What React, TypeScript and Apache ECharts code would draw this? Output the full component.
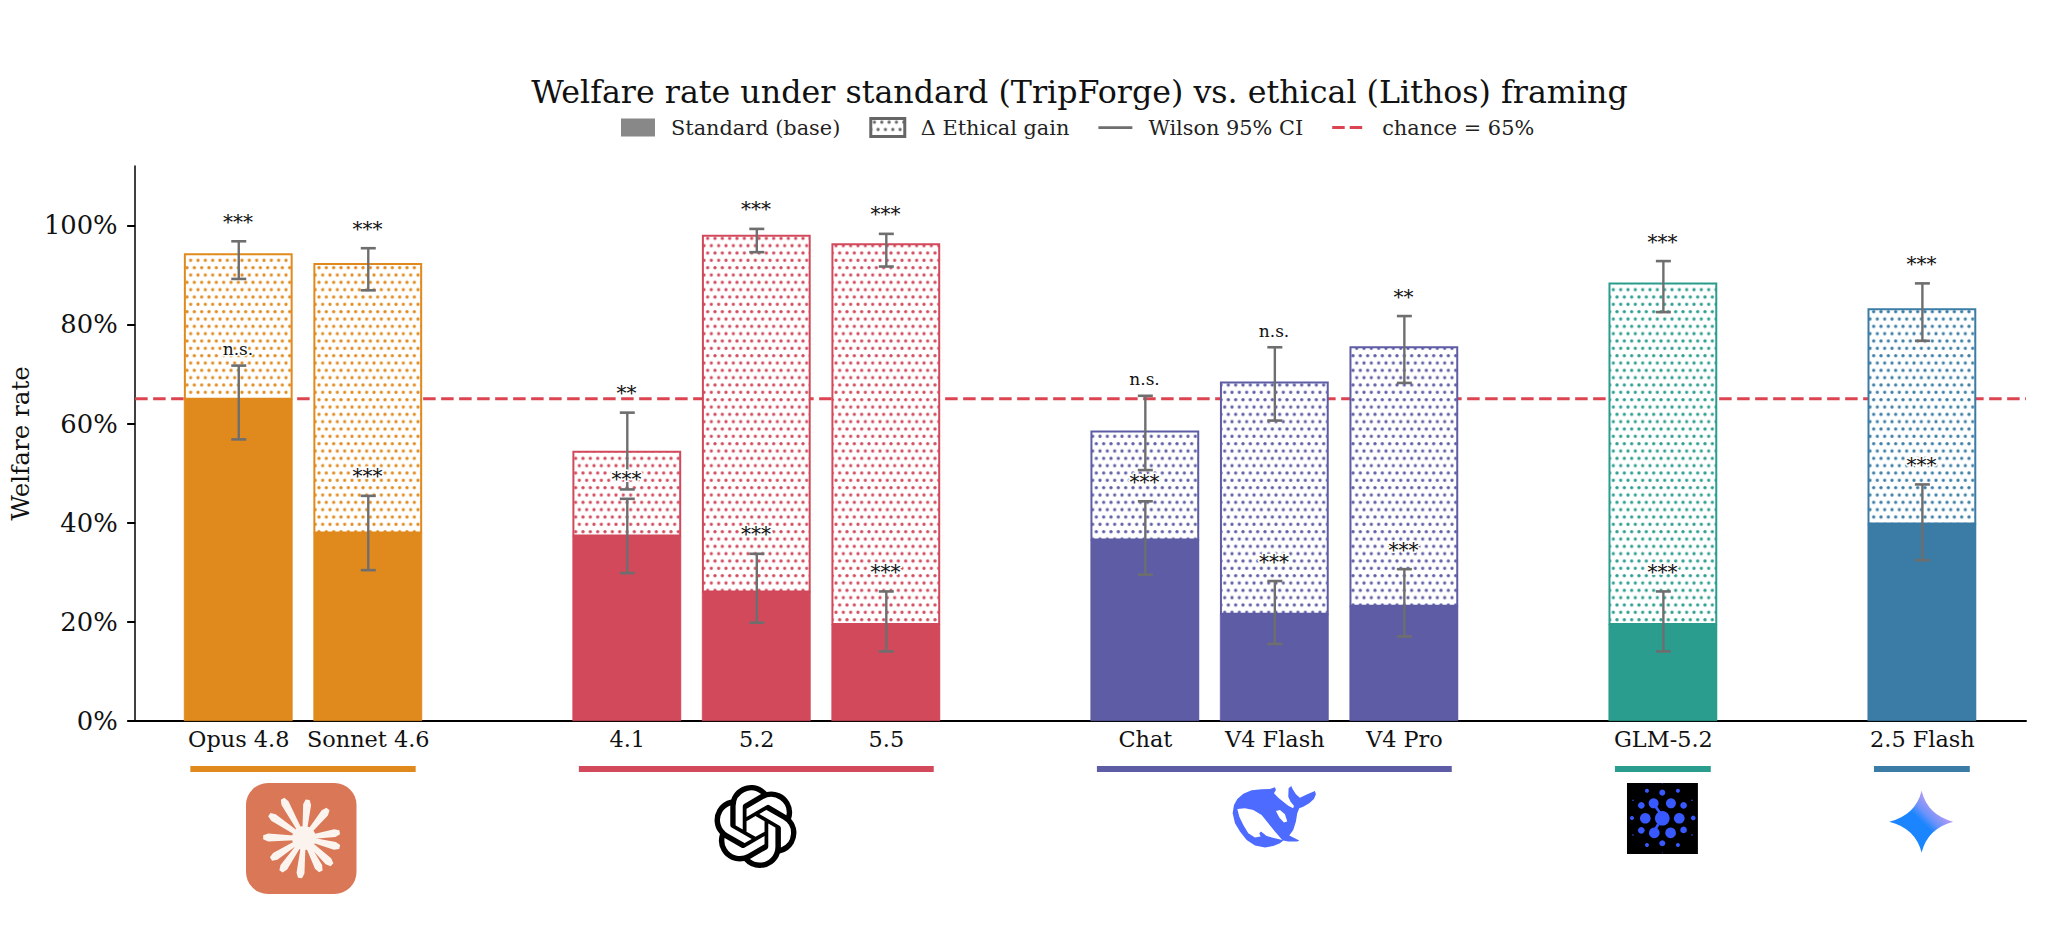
import React, { useEffect, useRef } from "react";
import * as echarts from "echarts";

// ---------- data ----------
const positions = [0, 1, 3, 4, 5, 7, 8, 9, 11, 13];
const modelNames = ["Opus 4.8", "Sonnet 4.6", "4.1", "5.2", "5.5", "Chat", "V4 Flash", "V4 Pro", "GLM-5.2", "2.5 Flash"];
const baseValues = [65.0, 38.0, 37.4, 26.1, 19.5, 36.6, 21.6, 23.2, 19.5, 39.8];
const ethicalValues = [94.4, 92.4, 54.5, 98.1, 96.4, 58.6, 68.5, 75.6, 88.5, 83.3];
const baseCiLow = [56.8, 30.4, 29.8, 19.8, 14.0, 29.5, 15.5, 17.0, 14.0, 32.4];
const baseCiHigh = [71.7, 45.4, 44.8, 33.7, 26.1, 44.3, 28.2, 30.6, 26.1, 47.7];
const ethicalCiLow = [89.2, 86.9, 46.7, 94.6, 91.7, 50.6, 60.6, 68.2, 82.5, 76.7];
const ethicalCiHigh = [96.8, 95.4, 62.2, 99.3, 98.3, 65.6, 75.4, 81.7, 92.8, 88.3];
const baseSig = ["n.s.", "***", "***", "***", "***", "***", "***", "***", "***", "***"];
const ethicalSig = ["***", "***", "**", "***", "***", "n.s.", "n.s.", "**", "***", "***"];
const barColors = ["#E08A1E", "#E08A1E", "#D1495B", "#D1495B", "#D1495B", "#5D5CA5", "#5D5CA5", "#5D5CA5", "#2A9D8F", "#3A7CA5"];
const groupSpans = [[0, 1], [3, 5], [7, 9], [11, 11], [13, 13]];
const groupColors = ["#E08A1E", "#D1495B", "#5D5CA5", "#2A9D8F", "#3A7CA5"];
const yTicks = [0, 20, 40, 60, 80, 100];
const xLimits = [-0.8, 13.8];
const chanceLevel = 65;

const FONT = '"DejaVu Serif", serif';

// ---------- logos ----------
const openAiPath =
  "M22.2819 9.8211a5.9847 5.9847 0 0 0-.5157-4.9108 6.0462 6.0462 0 0 0-6.5098-2.9A6.0651 6.0651 0 0 0 4.9807 4.1818a5.9847 5.9847 0 0 0-3.9977 2.9 6.0462 6.0462 0 0 0 .7427 7.0966 5.98 5.98 0 0 0 .511 4.9107 6.051 6.051 0 0 0 6.5146 2.9001A5.9847 5.9847 0 0 0 13.2599 24a6.0557 6.0557 0 0 0 5.7718-4.2058 5.9894 5.9894 0 0 0 3.9977-2.9001 6.0557 6.0557 0 0 0-.7475-7.0729zm-9.022 12.6081a4.4755 4.4755 0 0 1-2.8764-1.0408l.1419-.0804 4.7783-2.7582a.7948.7948 0 0 0 .3927-.6813v-6.7369l2.02 1.1686a.071.071 0 0 1 .038.052v5.5826a4.504 4.504 0 0 1-4.4945 4.4944zm-9.6607-4.1254a4.4708 4.4708 0 0 1-.5346-3.0137l.142.0852 4.783 2.7582a.7712.7712 0 0 0 .7806 0l5.8428-3.3685v2.3324a.0804.0804 0 0 1-.0332.0615L9.74 19.9502a4.4992 4.4992 0 0 1-6.1408-1.6464zM2.3408 7.8956a4.485 4.485 0 0 1 2.3655-1.9728V11.6a.7664.7664 0 0 0 .3879.6765l5.8144 3.3543-2.0201 1.1685a.0757.0757 0 0 1-.071 0l-4.8303-2.7865A4.504 4.504 0 0 1 2.3408 7.872zm16.5963 3.8558L13.1038 8.364 15.1192 7.2a.0757.0757 0 0 1 .071 0l4.8303 2.7913a4.4944 4.4944 0 0 1-.6765 8.1042v-5.6772a.79.79 0 0 0-.407-.667zm2.0107-3.0231l-.142-.0852-4.7735-2.7818a.7759.7759 0 0 0-.7854 0L9.409 9.2297V6.8974a.0662.0662 0 0 1 .0284-.0615l4.8303-2.7866a4.4992 4.4992 0 0 1 6.6802 4.66zM8.3065 12.863l-2.02-1.1638a.0804.0804 0 0 1-.038-.0567V6.0742a4.4992 4.4992 0 0 1 7.3757-3.4537l-.142.0805L8.704 5.459a.7948.7948 0 0 0-.3927.6813zm1.0976-2.3654l2.602-1.4998 2.6069 1.4998v2.9994l-2.5974 1.4997-2.6067-1.4997Z";

const whalePath =
  "M38 115L42 90L52 72L70 56L95 46L125 43L150 42L165 37L168 45L162 55L175 68L190 80L205 92L220 100L222 92L212 80L205 65L206 40L214 33L218 42L228 58L240 68L262 58L285 48L288 58L282 72L268 85L250 95L238 100L232 115L228 140L220 165L208 182L238 197L232 200L205 200L190 197L180 205L160 213L135 218L105 212L80 195L60 170L45 145Z" +
  "M52 102L58 125L70 150L85 175L105 188L122 185L118 175L123 170L140 183L165 190L187 195L165 170L145 145L125 120L100 105L75 100Z" +
  "M168 108L178 128L192 143L202 140L195 118L180 105Z";

const geminiPath = "M155 32Q137 105 58 125Q137 145 155 218Q173 145 250 125Q173 105 155 32Z";

const rayTips = [
  [-21.4, -39.3], [3.6, -38.3], [24, -29], [35.7, -5.7], [35.7, 9], [28, 26.7],
  [16.8, 33.3], [-4, 40], [-23, 33.3], [-33, 21], [-40.8, -0.7], [-34.7, -23.3],
];
const raysPath = rayTips
  .map(([dx, dy]) => {
    const len = Math.hypot(dx, dy);
    const ux = dx / len, uy = dy / len, nx = -uy, ny = ux;
    const p = (along: number, side: number) =>
      `${(ux * along + nx * side).toFixed(2)} ${(uy * along + ny * side).toFixed(2)}`;
    return `M${p(4, -2)}L${p(len - 5, -4)}L${p(len, -2)}L${p(len, 2)}L${p(len - 5, 4)}L${p(4, 2)}Z`;
  })
  .join("");

const glmDots = [
  [142, 130, 22], [142, 53, 9], [96, 47, 6], [189, 47, 6], [142, 205, 9], [96, 210, 6], [189, 210, 6],
  [116, 85, 15], [168, 85, 15], [79, 91, 10], [206, 91, 10], [91, 130, 16], [193, 130, 16],
  [51, 129, 6], [235, 129, 7], [79, 166, 10], [206, 165, 10], [118, 174, 16], [167, 174, 16],
  [54, 76, 2], [231, 76, 2], [54, 180, 2], [231, 180, 2], [142, 25, 1.2], [142, 234, 1.2],
];
const glmLinks = [[122, 95, 138, 118], [130, 148, 120, 165]];

echarts.graphic.registerShape("logoOpenAi", echarts.graphic.extendPath(openAiPath, {}));
echarts.graphic.registerShape("logoWhale", echarts.graphic.extendPath(whalePath, {}));
echarts.graphic.registerShape("logoGemini", echarts.graphic.extendPath(geminiPath, {}));
echarts.graphic.registerShape("logoRays", echarts.graphic.extendPath(raysPath, {}));

function dotPattern(color: string) {
  const c = document.createElement("canvas");
  c.width = 22;
  c.height = 44;
  const ctx = c.getContext("2d")!;
  ctx.fillStyle = "#ffffff";
  ctx.fillRect(0, 0, 22, 44);
  ctx.fillStyle = color;
  const dots = [[11, 11], [0, 33], [22, 33]];
  for (const [x, y] of dots) {
    ctx.beginPath();
    ctx.arc(x, y, 4.8, 0, Math.PI * 2);
    ctx.fill();
  }
  return { image: c, repeat: "repeat", scaleX: 1 / 3, scaleY: 1 / 3 };
}

const blankCorners = "M0 0h.01v.01h-.01zM34 18h.01v.01h-.01z";
const ciIcon = "path://" + blankCorners + "M0 7.8h34v2.6h-34z";
const chanceIcon = "path://" + blankCorners + "M0 7.6h12.5v3h-12.5zM17.5 7.6h12.5v3h-12.5z";

export default function App() {
  const ref = useRef<HTMLDivElement>(null);

  useEffect(() => {
    const chart = echarts.init(ref.current!, null, { renderer: "svg" });
    const gainPatterns = barColors.map(dotPattern);
    const lineEl = (x1: number, y1: number, x2: number, y2: number, lw: number) => ({
      type: "line",
      shape: { x1, y1, x2, y2 },
      style: { stroke: "#6E6E6E", lineWidth: lw },
    });
    const ciSeries = (low: number[], high: number[]) => ({
      type: "custom",
      name: "Wilson 95% CI",
      z: 5,
      silent: true,
      data: positions.map((x, i) => [x, low[i], high[i]]),
      renderItem: (_p: any, api: any) => {
        const a = api.coord([api.value(0), api.value(1)]);
        const b = api.coord([api.value(0), api.value(2)]);
        return {
          type: "group",
          children: [
            lineEl(a[0], a[1], b[0], b[1], 2.4),
            lineEl(a[0] - 7.5, a[1], a[0] + 7.5, a[1], 2.6),
            lineEl(b[0] - 7.5, b[1], b[0] + 7.5, b[1], 2.6),
          ],
        };
      },
    });
    const sigSeries = (high: number[], labels: string[]) => ({
      type: "custom",
      name: "significance",
      z: 6,
      silent: true,
      data: positions.map((x, i) => [x, high[i]]),
      renderItem: (p: any, api: any) => {
        const a = api.coord([api.value(0), api.value(1)]);
        const text = labels[p.dataIndex];
        const stars = text !== "n.s.";
        return {
          type: "text",
          z2: 10,
          style: {
            text,
            x: a[0] - 0.8,
            y: a[1] - (stars ? 9.5 : 8),
            align: "center",
            verticalAlign: "bottom",
            font: `${stars ? 20 : 17}px ${FONT}`,
            fill: "#111111",
            stroke: "#ffffff",
            lineWidth: 3,
            strokeFirst: true,
          },
        };
      },
    });
    const barSeries = (name: string, low: number[], high: number[], hatched: boolean) => ({
      type: "custom",
      name,
      z: 2,
      silent: true,
      data: positions.map((x, i) => [x, low[i], high[i]]),
      renderItem: (p: any, api: any) => {
        const lw = hatched ? 2 : 0.5;
        const width = api.size([0.84, 0])[0] - lw;
        const a = api.coord([api.value(0), api.value(1)]);
        const b = api.coord([api.value(0), api.value(2)]);
        const color = barColors[p.dataIndex];
        return {
          type: "rect",
          shape: { x: a[0] - width / 2 - 0.5, y: b[1] + lw / 2, width, height: a[1] - b[1] - lw / 2 },
          style: hatched
            ? { fill: gainPatterns[p.dataIndex], stroke: color, lineWidth: lw }
            : { fill: color, stroke: color, lineWidth: lw },
        };
      },
    });

    chart.setOption({
      animation: false,
      backgroundColor: "#ffffff",
      textStyle: { fontFamily: FONT },
      title: {
        text: "Welfare rate under standard (TripForge) vs. ethical (Lithos) framing",
        left: 1074.5,
        top: 71,
        textAlign: "center",
        textStyle: { fontFamily: FONT, fontSize: 31.7, fontWeight: "normal", color: "#111111" },
      },
      legend: {
        left: 621,
        top: 117,
        padding: 0,
        itemWidth: 34,
        itemHeight: 18,
        itemGap: 29,
        selectedMode: false,
        textStyle: { fontFamily: FONT, fontSize: 20.85, color: "#222222", padding: [0, 0, 0, 11] },
        data: [
          { name: "Standard (base)", icon: "rect", itemStyle: { color: "#888888", borderWidth: 0 } },
          {
            name: "Δ Ethical gain",
            icon: "rect",
            itemStyle: { color: dotPattern("#666666"), borderColor: "#666666", borderWidth: 3 },
          },
          { name: "Wilson 95% CI", icon: ciIcon, itemStyle: { color: "#6E6E6E", borderWidth: 0 } },
          { name: "chance = 65%", icon: chanceIcon, itemStyle: { color: "#DB4450", borderWidth: 0 } },
        ],
      },
      grid: { left: 133, right: 20, top: 166, bottom: 204.3 },
      xAxis: {
        type: "value",
        min: xLimits[0],
        max: xLimits[1],
        splitLine: { show: false },
        axisLine: { show: true, onZero: false, lineStyle: { color: "#000000", width: 2 } },
        axisTick: { show: false },
        axisLabel: {
          customValues: positions,
          formatter: (v: number) => modelNames[positions.indexOf(v)] ?? "",
          fontFamily: FONT,
          fontSize: 22.4,
          color: "#111111",
          margin: 7,
        },
      },
      yAxis: {
        type: "value",
        min: 0,
        max: 112,
        name: "Welfare rate",
        nameLocation: "middle",
        nameRotate: 90,
        nameGap: 101,
        nameTextStyle: { fontFamily: FONT, fontSize: 24.6, color: "#111111" },
        splitLine: { show: false },
        axisLine: { show: true, onZero: false, lineStyle: { color: "#000000", width: 1.5 } },
        axisTick: { show: true, length: 8, customValues: yTicks, lineStyle: { color: "#000000", width: 2 } },
        axisLabel: {
          customValues: yTicks,
          formatter: "{value}%",
          fontFamily: FONT,
          fontSize: 25.8,
          color: "#111111",
          margin: 17.5,
          padding: [3, 0, 0, 0],
        },
      },
      series: [
        {
          type: "line",
          name: "chance = 65%",
          z: 1,
          silent: true,
          symbol: "none",
          data: xLimits.map((x) => [x, chanceLevel]),
          lineStyle: { color: "#DB4450", width: 3, type: [12.5, 5.5] },
        },
        barSeries("Δ Ethical gain", baseValues, ethicalValues, true),
        barSeries("Standard (base)", positions.map(() => 0), baseValues, false),
        ciSeries(baseCiLow, baseCiHigh),
        ciSeries(ethicalCiLow, ethicalCiHigh),
        sigSeries(baseCiHigh, baseSig),
        sigSeries(ethicalCiHigh, ethicalSig),
        {
          type: "custom",
          name: "provider groups",
          silent: true,
          clip: false,
          data: groupSpans,
          renderItem: (p: any, api: any) => {
            const a = api.coord([api.value(0) - 0.37, 0]);
            const b = api.coord([api.value(1) + 0.37, 0]);
            return {
              type: "rect",
              shape: { x: a[0] - 0.5, y: a[1] + 45.3, width: b[0] - a[0], height: 6 },
              style: { fill: groupColors[p.dataIndex] },
            };
          },
        },
      ],
      graphic: [
        { type: "rect", x: 246, y: 783, shape: { x: 0, y: 0, width: 110.5, height: 111, r: 22 }, style: { fill: "#D97757" } },
        { type: "logoRays", x: 304, y: 838, style: { fill: "#FBF3EE" } },
        { type: "circle", x: 304, y: 838, shape: { cx: 0, cy: 0, r: 12 }, style: { fill: "#FBF3EE" } },
        { type: "logoOpenAi", x: 714, y: 785, scaleX: 83 / 24, scaleY: 83 / 24, style: { fill: "#000000" } },
        { type: "logoWhale", x: 1220, y: 775, scaleX: 1 / 3, scaleY: 1 / 3, style: { fill: "#4D6BFE" } },
        {
          type: "group",
          x: 1615,
          y: 775,
          scaleX: 1 / 3,
          scaleY: 1 / 3,
          children: [
            { type: "rect", shape: { x: 36, y: 24, width: 213, height: 213 }, style: { fill: "#000000" } },
            ...glmLinks.map(([x1, y1, x2, y2]) => ({
              type: "line",
              shape: { x1, y1, x2, y2 },
              style: { stroke: "#3859FF", lineWidth: 8 },
            })),
            ...glmDots.map(([cx, cy, r]) => ({
              type: "circle",
              shape: { cx, cy, r },
              style: { fill: "#3859FF" },
            })),
          ],
        },
        {
          type: "logoGemini",
          x: 1870,
          y: 780,
          scaleX: 1 / 3,
          scaleY: 1 / 3,
          style: {
            fill: new echarts.graphic.LinearGradient(0, 1, 1, 0, [
              { offset: 0, color: "#1A85FF" },
              { offset: 0.5, color: "#1A85FF" },
              { offset: 0.6, color: "#6D93FA" },
              { offset: 0.75, color: "#B89CF5" },
              { offset: 1, color: "#B89CF5" },
            ]),
          },
        },
      ],
    });
    return () => chart.dispose();
  }, []);

  return <div ref={ref} style={{ position: "fixed", left: 0, top: 0, width: 2046, height: 925 }} />;
}
